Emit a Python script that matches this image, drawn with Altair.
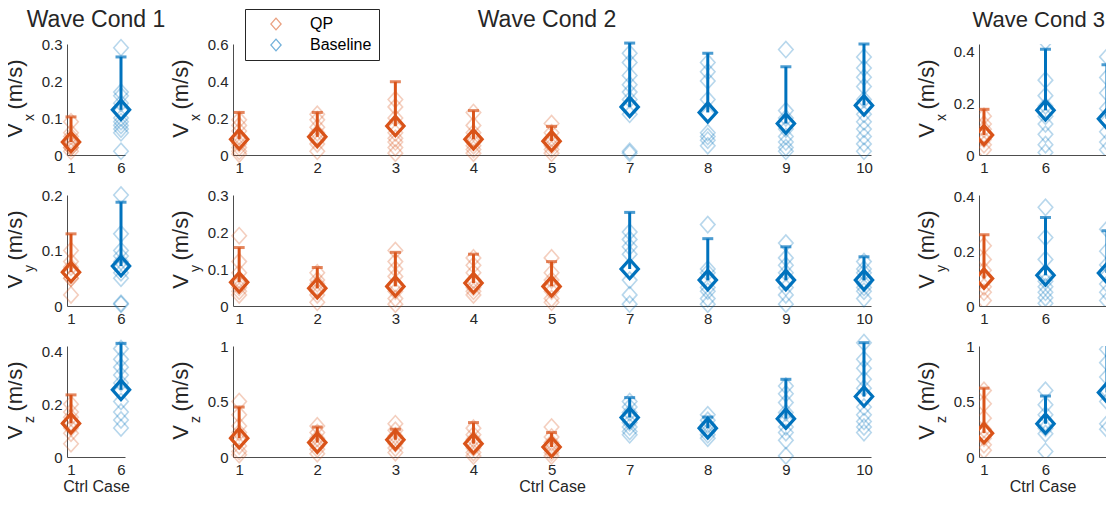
import altair as alt
import pandas as pd

ORANGE = "#D95319"
BLUE = "#0072BD"
INK = "#262626"
FONT = "Liberation Sans"
DIAMOND = "M-1,0L0,-1.12L1,0L0,1.12Z"
DIAMOND_RING = "M-1,0L0,-1.12L1,0L0,1.12Z M-0.8,0L0,0.9L0.8,0L0,-0.9Z"

# ---------------- Wave Cond 1 ----------------
wc1_cases = ["1", "6"]
wc1_methods = ["QP", "Baseline"]
wc1_vx_mean = [0.035, 0.122]
wc1_vx_top = [0.103, 0.265]
wc1_vx_pts = [[0.09, 0.06, 0.05, 0.04, 0.03, 0.02, 0.02, 0.01],
              [0.29, 0.17, 0.16, 0.14, 0.12, 0.10, 0.09, 0.08, 0.07, 0.06, 0.01]]
wc1_vy_mean = [0.061, 0.072]
wc1_vy_top = [0.13, 0.187]
wc1_vy_pts = [[0.10, 0.08, 0.07, 0.06, 0.05, 0.05, 0.02],
              [0.20, 0.13, 0.10, 0.09, 0.08, 0.07, 0.06, 0.05, 0.005, 0.003]]
wc1_vz_mean = [0.127, 0.254]
wc1_vz_top = [0.235, 0.43]
wc1_vz_pts = [[0.20, 0.17, 0.15, 0.13, 0.11, 0.09, 0.05],
              [0.41, 0.37, 0.34, 0.31, 0.28, 0.25, 0.21, 0.17, 0.14, 0.11]]

# ---------------- Wave Cond 2 ----------------
wc2_cases = ["1", "2", "3", "4", "5", "7", "8", "9", "10"]
wc2_methods = ["QP", "QP", "QP", "QP", "QP", "Baseline", "Baseline", "Baseline", "Baseline"]
wc2_vx_mean = [0.085, 0.098, 0.157, 0.085, 0.075, 0.26, 0.23, 0.17, 0.268]
wc2_vx_top = [0.23, 0.23, 0.396, 0.24, 0.155, 0.605, 0.55, 0.477, 0.60]
wc2_vx_pts = [[0.19, 0.16, 0.13, 0.10, 0.08, 0.06, 0.04, 0.02, 0.005],
              [0.22, 0.19, 0.15, 0.12, 0.10, 0.08, 0.06, 0.02],
              [0.30, 0.26, 0.20, 0.15, 0.12, 0.09, 0.07, 0.04, 0.01],
              [0.23, 0.16, 0.12, 0.09, 0.07, 0.05, 0.03, 0.01],
              [0.17, 0.12, 0.09, 0.07, 0.05, 0.03, 0.01],
              [0.55, 0.50, 0.43, 0.38, 0.34, 0.30, 0.26, 0.22, 0.02, 0.01],
              [0.50, 0.45, 0.40, 0.30, 0.22, 0.12, 0.10, 0.08, 0.05],
              [0.57, 0.24, 0.20, 0.17, 0.14, 0.10, 0.07, 0.04, 0.02],
              [0.53, 0.47, 0.42, 0.37, 0.30, 0.22, 0.18, 0.14, 0.10, 0.06, 0.02]]
wc2_vy_mean = [0.064, 0.048, 0.053, 0.062, 0.053, 0.10, 0.07, 0.07, 0.07]
wc2_vy_top = [0.158, 0.104, 0.145, 0.14, 0.12, 0.253, 0.182, 0.16, 0.133]
wc2_vy_pts = [[0.19, 0.12, 0.09, 0.07, 0.06, 0.05, 0.04, 0.03],
              [0.09, 0.07, 0.06, 0.05, 0.04, 0.03, 0.01],
              [0.15, 0.12, 0.10, 0.08, 0.06, 0.04, 0.02, 0.005],
              [0.13, 0.11, 0.09, 0.07, 0.05, 0.04, 0.03],
              [0.13, 0.09, 0.07, 0.05, 0.04, 0.02, 0.01],
              [0.20, 0.18, 0.16, 0.14, 0.10, 0.07, 0.03, 0.005],
              [0.22, 0.10, 0.09, 0.07, 0.05, 0.04, 0.02, 0.005],
              [0.17, 0.13, 0.11, 0.09, 0.07, 0.05, 0.03, 0.005],
              [0.12, 0.10, 0.09, 0.07, 0.06, 0.05, 0.04, 0.02]]
wc2_vz_mean = [0.17, 0.13, 0.155, 0.12, 0.09, 0.355, 0.26, 0.345, 0.545]
wc2_vz_top = [0.45, 0.27, 0.25, 0.31, 0.22, 0.535, 0.36, 0.70, 1.03]
wc2_vz_pts = [[0.50, 0.38, 0.28, 0.22, 0.15, 0.10, 0.05, 0.02],
              [0.28, 0.22, 0.17, 0.13, 0.10, 0.07, 0.03],
              [0.30, 0.24, 0.19, 0.15, 0.12, 0.08, 0.04],
              [0.26, 0.20, 0.16, 0.12, 0.08, 0.04, 0.01],
              [0.27, 0.18, 0.13, 0.10, 0.07, 0.04, 0.01],
              [0.50, 0.45, 0.40, 0.35, 0.31, 0.27, 0.23, 0.20],
              [0.38, 0.33, 0.29, 0.26, 0.23, 0.20, 0.17],
              [0.64, 0.57, 0.49, 0.40, 0.33, 0.27, 0.22, 0.15, 0.01],
              [1.03, 0.88, 0.80, 0.70, 0.62, 0.45, 0.38, 0.32, 0.27, 0.22]]

# ---------------- Wave Cond 3 ----------------
wc3_cases = ["1", "6", "10"]
wc3_methods = ["QP", "Baseline", "Baseline"]
wc3_vx_mean = [0.077, 0.173, 0.14]
wc3_vx_top = [0.177, 0.41, 0.35]
wc3_vx_pts = [[0.15, 0.12, 0.10, 0.08, 0.06, 0.04, 0.02],
              [0.44, 0.29, 0.23, 0.19, 0.15, 0.12, 0.08, 0.04, 0.01],
              [0.38, 0.30, 0.24, 0.18, 0.13, 0.09, 0.05, 0.02]]
wc3_vy_mean = [0.10, 0.112, 0.12]
wc3_vy_top = [0.26, 0.323, 0.275]
wc3_vy_pts = [[0.22, 0.17, 0.13, 0.10, 0.07, 0.05, 0.02],
              [0.36, 0.25, 0.17, 0.12, 0.09, 0.07, 0.05, 0.03, 0.01],
              [0.28, 0.20, 0.15, 0.11, 0.08, 0.05, 0.02]]
wc3_vz_mean = [0.215, 0.30, 0.58]
wc3_vz_top = [0.62, 0.55, 1.02]
wc3_vz_pts = [[0.60, 0.48, 0.35, 0.25, 0.17, 0.11, 0.06],
              [0.60, 0.47, 0.38, 0.31, 0.26, 0.21, 0.05],
              [0.97, 0.85, 0.72, 0.60, 0.50, 0.30, 0.25]]

# axis limits and ticks
wc1_ylim = [0.3, 0.2, 0.42]
wc2_ylim = [0.6, 0.3, 1.0]
wc3_ylim = [0.43, 0.405, 1.0]
wc1_yticks = [[0, 0.1, 0.2, 0.3], [0, 0.1, 0.2], [0, 0.2, 0.4]]
wc2_yticks = [[0, 0.2, 0.4, 0.6], [0, 0.1, 0.2, 0.3], [0, 0.5, 1]]
wc3_yticks = [[0, 0.2, 0.4], [0, 0.2, 0.4], [0, 0.5, 1]]
components = ["x", "y", "z"]
methods_order = ["QP", "Baseline"]

H = 111


def y_title_layers(comp, h):
    base = pd.DataFrame({"k": [0]})
    common = dict(angle=270, align="center", baseline="middle", font=FONT, color=INK)
    v = alt.Chart(base).mark_text(text="V", fontSize=22, **common).encode(
        x=alt.value(-52), y=alt.value(h / 2 + 31))
    s = alt.Chart(base).mark_text(text=comp, fontSize=14, **common).encode(
        x=alt.value(-37), y=alt.value(h / 2 + 18))
    u = alt.Chart(base).mark_text(text="(m/s)", fontSize=22, **common).encode(
        x=alt.value(-52), y=alt.value(h / 2 - 15))
    return [v, s, u]


def panel(cases, methods, pts, means, tops, ylim, yticks, comp, width, xdom, nlab,
          title=None, title_mode="center", xtitle=False, legend=False, clip=False):
    rows = []
    for i, (c, m, vals) in enumerate(zip(cases, methods, pts)):
        for v in vals:
            rows.append({"idx": i, "case": c, "method": m, "value": v})
    pdf = pd.DataFrame(rows)
    sdf = pd.DataFrame({"idx": list(range(len(cases))), "case": cases,
                        "method": methods, "mean": means, "top": tops})

    label_js = "[" + ",".join("'%s'" % c for c in cases) + "][datum.value]"
    xaxis = alt.Axis(title="Ctrl Case" if xtitle else None, labelAngle=0, ticks=False,
                     values=list(range(nlab)), labelExpr=label_js, grid=False,
                     labelPadding=5, labelFontSize=15, labelFont=FONT, labelColor=INK,
                     titleFont=FONT, titleFontSize=16, titleFontWeight="normal",
                     titleColor=INK, titlePadding=1, domainColor="#4d4d4d")
    xscale = alt.Scale(domain=xdom, nice=False, zero=False)
    yscale = alt.Scale(domain=[0, ylim], nice=False, zero=True)
    yaxis = alt.Axis(values=yticks, format="~g", title=None, grid=False, ticks=False,
                     labelPadding=5, labelFontSize=15, labelFont=FONT, labelColor=INK,
                     domainColor="#4d4d4d")
    cscale = alt.Scale(domain=methods_order, range=[ORANGE, BLUE])
    if legend:
        leg = alt.Legend(orient="none", legendX=12, legendY=-35, title=" ",
                         titleOrient="left", titlePadding=16, titleFontSize=6,
                         strokeColor=INK, fillColor="white", padding=7,
                         labelFontSize=16, labelFont=FONT, labelColor="#000000",
                         symbolType=DIAMOND_RING, symbolSize=130, symbolStrokeWidth=0.4,
                         symbolOpacity=0.6, labelOffset=26, rowPadding=5)
    else:
        leg = None

    x = alt.X("idx:Q", scale=xscale, axis=xaxis)

    faded = alt.Chart(pdf).mark_point(shape=DIAMOND, filled=False, size=210,
                                      strokeWidth=1.6, opacity=0.28, clip=clip).encode(
        x=x,
        y=alt.Y("value:Q", scale=yscale, axis=yaxis),
        stroke=alt.Stroke("method:N", scale=cscale, legend=leg))
    bar = alt.Chart(sdf).mark_rule(strokeWidth=3, clip=clip).encode(
        x=x,
        y=alt.Y("mean:Q", scale=yscale, axis=yaxis),
        y2="top:Q",
        color=alt.Color("method:N", scale=cscale, legend=None))
    cap = alt.Chart(sdf).mark_tick(thickness=3, size=11, orient="horizontal",
                                   clip=clip).encode(
        x=x,
        y=alt.Y("top:Q", scale=yscale, axis=yaxis),
        color=alt.Color("method:N", scale=cscale, legend=None))
    mean = alt.Chart(sdf).mark_point(shape=DIAMOND, filled=False, size=300,
                                     strokeWidth=3.2, opacity=1, clip=clip).encode(
        x=x,
        y=alt.Y("mean:Q", scale=yscale, axis=yaxis),
        color=alt.Color("method:N", scale=cscale, legend=None))

    layers = [faded, bar, cap, mean] + y_title_layers(comp, H)
    if title:
        if title_mode == "right":
            tx, talign, tsize = width - 1, "right", 22
        elif title_mode == "mid":
            tx, talign, tsize = width / 2 - 5, "center", 23
        else:
            tx, talign, tsize = width / 2, "center", 23
        t = alt.Chart(pd.DataFrame({"k": [0]})).mark_text(
            text=title, fontSize=tsize, font=FONT, color=INK, align=talign,
            baseline="alphabetic").encode(x=alt.value(tx), y=alt.value(-17))
        layers.append(t)
    return alt.layer(*layers).properties(width=width, height=H)


col_specs = [
    dict(cases=wc1_cases, methods=wc1_methods,
         pts=[wc1_vx_pts, wc1_vy_pts, wc1_vz_pts],
         means=[wc1_vx_mean, wc1_vy_mean, wc1_vz_mean],
         tops=[wc1_vx_top, wc1_vy_top, wc1_vz_top],
         ylims=wc1_ylim, ticks=wc1_yticks, width=58, xdom=[-0.08, 1.08], nlab=2,
         title="Wave Cond 1", title_mode="center", legend_row=None, clip=False),
    dict(cases=wc2_cases, methods=wc2_methods,
         pts=[wc2_vx_pts, wc2_vy_pts, wc2_vz_pts],
         means=[wc2_vx_mean, wc2_vy_mean, wc2_vz_mean],
         tops=[wc2_vx_top, wc2_vy_top, wc2_vz_top],
         ylims=wc2_ylim, ticks=wc2_yticks, width=638, xdom=[-0.079, 8.09], nlab=9,
         title="Wave Cond 2", title_mode="mid", legend_row=0, clip=False),
    dict(cases=wc3_cases, methods=wc3_methods,
         pts=[wc3_vx_pts, wc3_vy_pts, wc3_vz_pts],
         means=[wc3_vx_mean, wc3_vy_mean, wc3_vz_mean],
         tops=[wc3_vx_top, wc3_vy_top, wc3_vz_top],
         ylims=wc3_ylim, ticks=wc3_yticks, width=127, xdom=[-0.081, 1.984], nlab=2,
         title="Wave Cond 3", title_mode="right", legend_row=None, clip=True),
]

panels = []
for i in range(3):
    for s in col_specs:
        panels.append(panel(s["cases"], s["methods"], s["pts"][i], s["means"][i],
                            s["tops"][i], s["ylims"][i], s["ticks"][i], components[i],
                            s["width"], s["xdom"], s["nlab"],
                            title=s["title"] if i == 0 else None,
                            title_mode=s["title_mode"], xtitle=(i == 2),
                            legend=(s["legend_row"] == i), clip=s["clip"]))

chart = alt.concat(*panels, columns=3, spacing={"row": 40, "column": 108},
                   bounds="flush", align="each").resolve_scale(
    color="independent", stroke="independent").properties(
    padding={"left": -4, "top": 0, "right": 0, "bottom": -1}).configure_view(stroke=None)

chart.save("out.html", embed_options={"renderer": "svg", "actions": False})
